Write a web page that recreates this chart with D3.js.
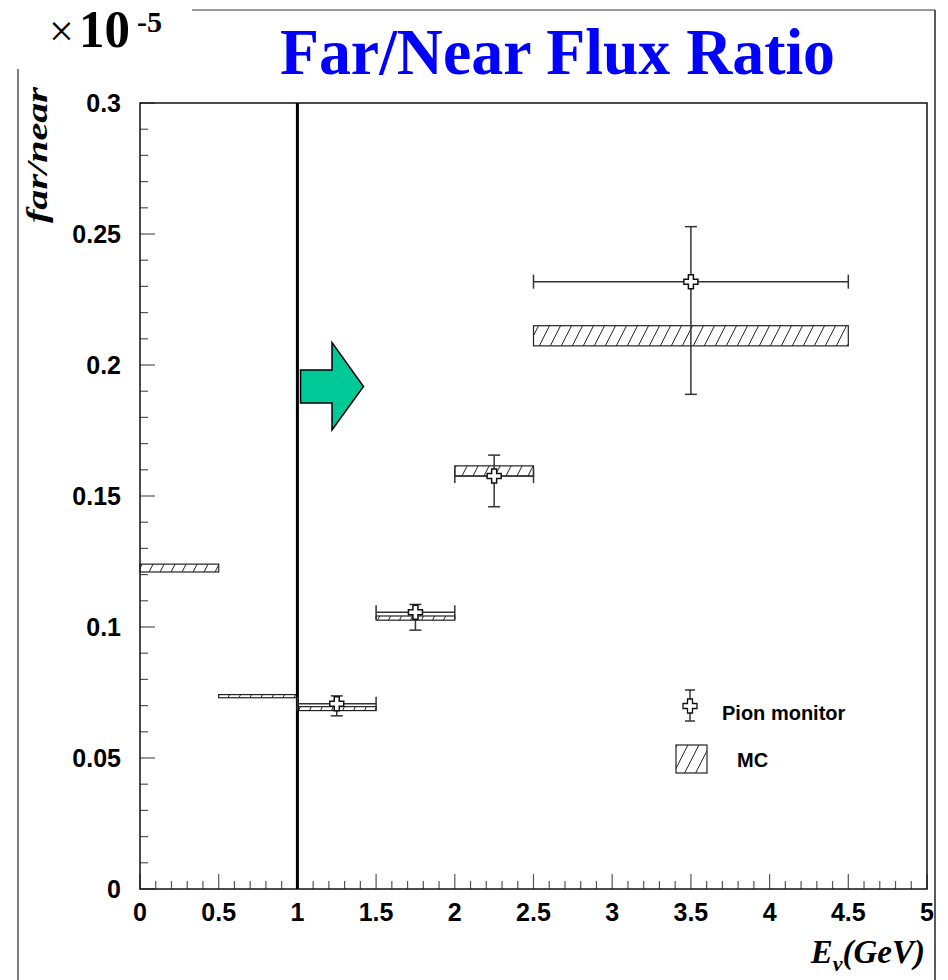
<!DOCTYPE html>
<html>
<head>
<meta charset="utf-8">
<title>Far/Near Flux Ratio</title>
<script src="https://cdn.jsdelivr.net/npm/d3@7"></script>
<style>
    body { margin: 0; background: white; }
    svg { display: block; }
</style>
</head>
<body>
<div id="chart"></div>
<script>
// MC bands (hatched boxes), in units of 1e-5
var mcLow  = [0.0, 0.5, 1.0, 1.5, 2.0, 2.5];
var mcHigh = [0.5, 1.0, 1.5, 2.0, 2.5, 4.5];
var mcMin  = [0.1210, 0.0730, 0.0681, 0.1026, 0.1576, 0.2073];
var mcMax  = [0.1240, 0.0742, 0.0696, 0.1042, 0.1615, 0.2150];

// Pion monitor points with errors
var pionX    = [1.25, 1.75, 2.25, 3.5];
var pionXLow = [1.0, 1.5, 2.0, 2.5];
var pionXHigh= [1.5, 2.0, 2.5, 4.5];
var pionY    = [0.0707, 0.1056, 0.1576, 0.2318];
var pionYLow = [0.0661, 0.0988, 0.1459, 0.1888];
var pionYHigh= [0.0737, 0.1086, 0.1656, 0.2528];

var xTicks = [0, 0.5, 1, 1.5, 2, 2.5, 3, 3.5, 4, 4.5, 5];
var yTicks = [0, 0.05, 0.1, 0.15, 0.2, 0.25, 0.3];
var cutE = 1.0;

var width = 948, height = 980;
var plot = {left: 140, right: 927, top: 103, bottom: 889};

var svg = d3.select("#chart").append("svg")
    .attr("width", width)
    .attr("height", height);

var x = d3.scaleLinear().domain([0, 5]).range([plot.left, plot.right]);
var y = d3.scaleLinear().domain([0, 0.3]).range([plot.bottom, plot.top]);

// hatch pattern
var defs = svg.append("defs");
defs.append("pattern")
    .attr("id", "hatch")
    .attr("patternUnits", "userSpaceOnUse")
    .attr("width", 11).attr("height", 11)
    .attr("patternTransform", "skewX(-27)")
    .append("line")
    .attr("x1", 0.5).attr("x2", 0.5)
    .attr("y1", 0).attr("y2", 11)
    .attr("stroke", "#222").attr("stroke-width", 1);

// outer pad lines
svg.append("line").attr("x1", 18).attr("x2", 18).attr("y1", 69).attr("y2", 980)
    .attr("stroke", "#555").attr("stroke-width", 1.5);
svg.append("line").attr("x1", 192).attr("x2", 935).attr("y1", 10).attr("y2", 10)
    .attr("stroke", "#777").attr("stroke-width", 1.5);
svg.append("line").attr("x1", 935).attr("x2", 935).attr("y1", 10).attr("y2", 980)
    .attr("stroke", "#222").attr("stroke-width", 1.5);

// title
svg.append("text")
    .attr("x", 280).attr("y", 74)
    .attr("font-family", "Liberation Serif, Times New Roman, serif")
    .attr("font-weight", "bold")
    .attr("font-size", "66px")
    .attr("fill", "#0000ff")
    .attr("textLength", 555)
    .attr("lengthAdjust", "spacingAndGlyphs")
    .text("Far/Near Flux Ratio");

// x10^-5
svg.append("text")
    .attr("x", 49).attr("y", 46)
    .attr("font-family", "Liberation Serif, Times New Roman, serif")
    .attr("font-size", "44px")
    .text("×");
svg.append("text")
    .attr("x", 79).attr("y", 47)
    .attr("font-family", "Liberation Serif, Times New Roman, serif")
    .attr("font-weight", "bold")
    .attr("font-size", "52px")
    .attr("textLength", 51)
    .attr("lengthAdjust", "spacingAndGlyphs")
    .text("10");
svg.append("text")
    .attr("x", 137).attr("y", 32)
    .attr("font-family", "Liberation Serif, Times New Roman, serif")
    .attr("font-weight", "bold")
    .attr("font-size", "30px")
    .text("-5");

// ticks
var minorX = d3.range(0, 5.0001, 0.1);
var minorY = d3.range(0, 0.30001, 0.01);
var tickG = svg.append("g").attr("stroke", "#555").attr("stroke-width", 1.2);
tickG.selectAll(".mx").data(minorX).enter().append("line")
    .attr("x1", function(d){ return x(d); })
    .attr("x2", function(d){ return x(d); })
    .attr("y1", plot.bottom)
    .attr("y2", function(d){ return Math.abs(d * 2 - Math.round(d * 2)) < 1e-6 ? plot.bottom - 15 : plot.bottom - 8; });
tickG.selectAll(".my").data(minorY).enter().append("line")
    .attr("y1", function(d){ return y(d); })
    .attr("y2", function(d){ return y(d); })
    .attr("x1", plot.left)
    .attr("x2", function(d){ return Math.abs(d * 20 - Math.round(d * 20)) < 1e-6 ? plot.left + 15 : plot.left + 8; });

// frame
svg.append("rect")
    .attr("x", plot.left).attr("y", plot.top)
    .attr("width", plot.right - plot.left)
    .attr("height", plot.bottom - plot.top)
    .attr("fill", "none").attr("stroke", "#111").attr("stroke-width", 1.5);

// tick labels
svg.append("g").selectAll("text").data(xTicks).enter().append("text")
    .attr("x", function(d){ return x(d); })
    .attr("y", 921)
    .attr("text-anchor", "middle")
    .attr("font-family", "Liberation Sans, Arial, sans-serif")
    .attr("font-weight", "bold")
    .attr("font-size", "25px")
    .text(function(d){ return d; });
svg.append("g").selectAll("text").data(yTicks).enter().append("text")
    .attr("x", 121)
    .attr("y", function(d){ return y(d) + 9; })
    .attr("text-anchor", "end")
    .attr("font-family", "Liberation Sans, Arial, sans-serif")
    .attr("font-weight", "bold")
    .attr("font-size", "25px")
    .text(function(d){ return d; });

// axis titles
svg.append("text")
    .attr("transform", "translate(47,223) rotate(-90)")
    .attr("font-family", "Liberation Serif, Times New Roman, serif")
    .attr("font-weight", "bold").attr("font-style", "italic")
    .attr("font-size", "30px")
    .attr("textLength", 136)
    .attr("lengthAdjust", "spacingAndGlyphs")
    .text("far/near");
var xt = svg.append("text")
    .attr("x", 925).attr("y", 963)
    .attr("text-anchor", "end")
    .attr("font-family", "Liberation Serif, Times New Roman, serif")
    .attr("font-weight", "bold").attr("font-style", "italic")
    .attr("font-size", "33px");
xt.append("tspan").text("E");
xt.append("tspan").attr("font-size", "22px").attr("dy", 8).text("ν");
xt.append("tspan").attr("dy", -8).text("(GeV)");

// MC boxes
svg.append("g").selectAll("rect").data(mcLow).enter().append("rect")
    .attr("x", function(d){ return x(d); })
    .attr("y", function(d, i){ return y(mcMax[i]); })
    .attr("width", function(d, i){ return x(mcHigh[i]) - x(d); })
    .attr("height", function(d, i){ return y(mcMin[i]) - y(mcMax[i]); })
    .attr("fill", "url(#hatch)")
    .attr("stroke", "#222").attr("stroke-width", 1.2);

// cut line at 1 GeV
svg.append("line")
    .attr("x1", x(cutE)).attr("x2", x(cutE))
    .attr("y1", plot.top).attr("y2", plot.bottom)
    .attr("stroke", "#000").attr("stroke-width", 3);

// arrow
var ar = {x0: 1.02, x1: 1.22, x2: 1.42, shaftTop: 0.1981, shaftBot: 0.1855, headTop: 0.2086, headBot: 0.1752, tipY: 0.1918};
var arrowPts = [
    [ar.x0, ar.shaftTop], [ar.x1, ar.shaftTop], [ar.x1, ar.headTop], [ar.x2, ar.tipY],
    [ar.x1, ar.headBot], [ar.x1, ar.shaftBot], [ar.x0, ar.shaftBot]
];
svg.append("path")
    .attr("d", d3.line().x(function(d){ return x(d[0]); }).y(function(d){ return y(d[1]); })(arrowPts) + "Z")
    .attr("fill", "#00c896")
    .attr("stroke", "#000").attr("stroke-width", 1.5);

// error bars
var eb = svg.append("g").attr("stroke", "#333").attr("stroke-width", 1.5);
pionX.forEach(function(px, i){
    eb.append("line").attr("x1", x(pionXLow[i])).attr("x2", x(pionXHigh[i]))
        .attr("y1", y(pionY[i])).attr("y2", y(pionY[i]));
    eb.append("line").attr("x1", x(px)).attr("x2", x(px))
        .attr("y1", y(pionYLow[i])).attr("y2", y(pionYHigh[i]));
    [pionXLow[i], pionXHigh[i]].forEach(function(v){
        eb.append("line").attr("x1", x(v)).attr("x2", x(v))
            .attr("y1", y(pionY[i]) - 7).attr("y2", y(pionY[i]) + 7);
    });
    [pionYLow[i], pionYHigh[i]].forEach(function(v){
        eb.append("line").attr("x1", x(px) - 6).attr("x2", x(px) + 6)
            .attr("y1", y(v)).attr("y2", y(v));
    });
});

// open cross marker
function crossPath(cx, cy) {
    var a = 7, b = 2.5;
    return "M" + (cx - b) + "," + (cy - a) + "H" + (cx + b) + "V" + (cy - b) + "H" + (cx + a) +
        "V" + (cy + b) + "H" + (cx + b) + "V" + (cy + a) + "H" + (cx - b) + "V" + (cy + b) +
        "H" + (cx - a) + "V" + (cy - b) + "H" + (cx - b) + "Z";
}
svg.append("g").selectAll("path").data(pionX).enter().append("path")
    .attr("d", function(d, i){ return crossPath(x(d), y(pionY[i])); })
    .attr("fill", "white").attr("stroke", "#111").attr("stroke-width", 1.5);

// legend
var lg = svg.append("g");
lg.append("line").attr("x1", 690).attr("x2", 690).attr("y1", 690).attr("y2", 721)
    .attr("stroke", "#333").attr("stroke-width", 1.5);
lg.append("line").attr("x1", 685).attr("x2", 695).attr("y1", 690).attr("y2", 690)
    .attr("stroke", "#333").attr("stroke-width", 1.5);
lg.append("line").attr("x1", 685).attr("x2", 695).attr("y1", 721).attr("y2", 721)
    .attr("stroke", "#333").attr("stroke-width", 1.5);
lg.append("path").attr("d", crossPath(690, 706))
    .attr("fill", "white").attr("stroke", "#111").attr("stroke-width", 1.3);
lg.append("text").attr("x", 722).attr("y", 720)
    .attr("font-family", "Liberation Sans, Arial, sans-serif")
    .attr("font-weight", "bold").attr("font-size", "20px")
    .text("Pion monitor");
lg.append("rect").attr("x", 676).attr("y", 745).attr("width", 31).attr("height", 28)
    .attr("fill", "url(#hatch)").attr("stroke", "#222").attr("stroke-width", 1.2);
lg.append("text").attr("x", 737).attr("y", 767)
    .attr("font-family", "Liberation Sans, Arial, sans-serif")
    .attr("font-weight", "bold").attr("font-size", "20px")
    .text("MC");
</script>
</body>
</html>
